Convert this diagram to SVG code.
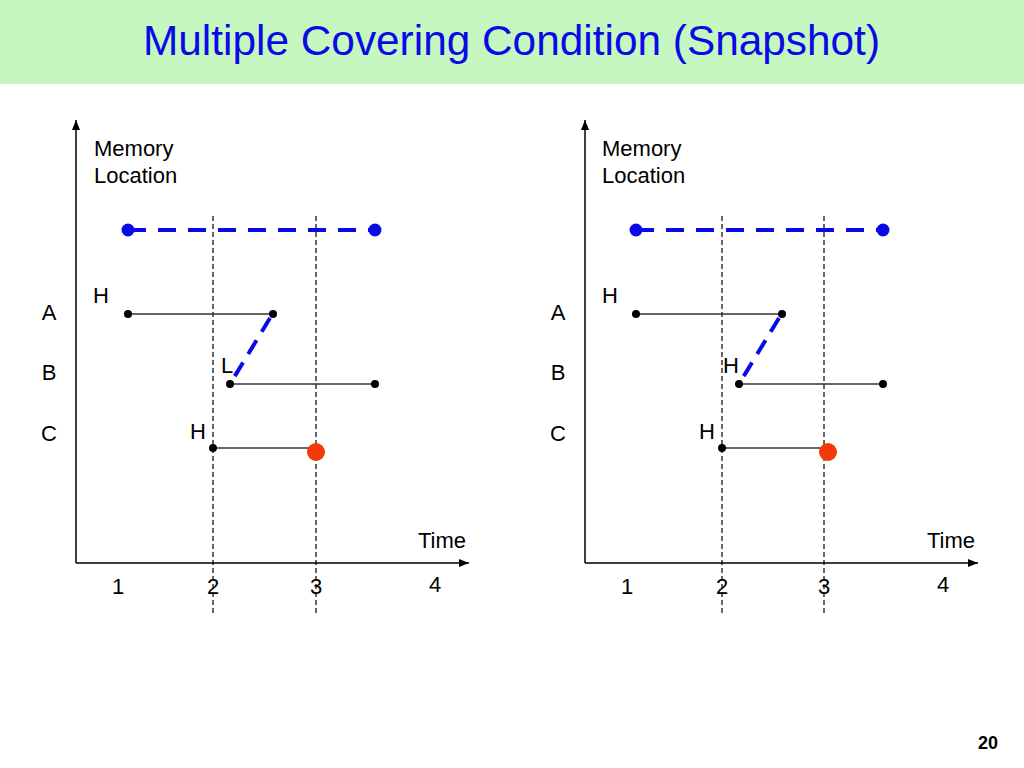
<svg xmlns="http://www.w3.org/2000/svg" width="1024" height="768" viewBox="0 0 1024 768">
<defs>
<style>
text{font-family:"Liberation Sans",Arial,sans-serif;fill:#000}
.lbl{font-size:22px}
.title{font-size:43px;fill:#0a0ae6}
.axis{stroke:#000;stroke-width:1.5;fill:none}
.vdash{stroke:#000;stroke-width:1.2;stroke-dasharray:5 3;fill:none}
.bdash{stroke:#0a0ae6;stroke-width:4;stroke-dasharray:18 12;fill:none}
.ddash{stroke:#0a0ae6;stroke-width:4;stroke-dasharray:16 10;fill:none}
.seg{stroke:#333;stroke-width:1.5;fill:none}
.dot{fill:#000}
.bdot{fill:#0a0ae6}
.rdot{fill:#f5380a}
</style>
<marker id="arr" viewBox="0 0 10 10" refX="10" refY="5" markerWidth="10" markerHeight="10" markerUnits="userSpaceOnUse" orient="auto">
<path d="M0,1 L10,5 L0,9 Z" fill="#000"/>
</marker>
</defs>
<rect x="0" y="0" width="1024" height="768" fill="#fff"/>
<g id="header">
<rect x="0" y="0" width="1024" height="84" fill="#c6f7c0"/>
<text class="title" x="143" y="55" textLength="737" lengthAdjust="spacingAndGlyphs">Multiple Covering Condition (Snapshot)</text>
</g>

<g id="left-panel">
<g id="left-axes">
<line class="axis" x1="76" y1="563" x2="76" y2="120" marker-end="url(#arr)"/>
<line class="axis" x1="76" y1="563" x2="469" y2="563" marker-end="url(#arr)"/>
<text class="lbl" x="94" y="156">Memory</text>
<text class="lbl" x="94" y="183">Location</text>
<text class="lbl" x="418" y="548">Time</text>
<text class="lbl" x="118" y="594" text-anchor="middle">1</text>
<text class="lbl" x="213" y="594" text-anchor="middle">2</text>
<text class="lbl" x="316" y="594" text-anchor="middle">3</text>
<text class="lbl" x="435" y="592" text-anchor="middle">4</text>
<text class="lbl" x="49" y="320" text-anchor="middle">A</text>
<text class="lbl" x="49" y="380" text-anchor="middle">B</text>
<text class="lbl" x="49" y="441" text-anchor="middle">C</text>
</g>
<g id="left-connectors">
<line class="vdash" x1="213" y1="216" x2="213" y2="614"/>
<line class="vdash" x1="316" y1="216" x2="316" y2="614"/>
<line class="bdash" x1="128" y1="230" x2="375" y2="230"/>
<line class="seg" x1="128" y1="314" x2="273" y2="314"/>
<line class="seg" x1="230" y1="384" x2="375" y2="384"/>
<line class="seg" x1="213" y1="448" x2="316" y2="448"/>
<line class="ddash" x1="270" y1="318" x2="230" y2="384"/>
</g>
<g id="left-nodes">
<circle class="bdot" cx="128" cy="230" r="6.5"/>
<circle class="bdot" cx="375" cy="230" r="6.5"/>
<circle class="dot" cx="128" cy="314" r="4"/>
<circle class="dot" cx="273" cy="314" r="4"/>
<circle class="dot" cx="230" cy="384" r="4"/>
<circle class="dot" cx="375" cy="384" r="4"/>
<circle class="dot" cx="213" cy="448" r="4"/>
<circle class="rdot" cx="316" cy="452" r="9"/>
<text class="lbl" x="93" y="303">H</text>
<text class="lbl" x="221" y="373">L</text>
<text class="lbl" x="190" y="439">H</text>
</g>
</g>

<g id="right-panel">
<g id="right-axes">
<line class="axis" x1="585" y1="563" x2="585" y2="120" marker-end="url(#arr)"/>
<line class="axis" x1="585" y1="563" x2="978" y2="563" marker-end="url(#arr)"/>
<text class="lbl" x="602" y="156">Memory</text>
<text class="lbl" x="602" y="183">Location</text>
<text class="lbl" x="927" y="548">Time</text>
<text class="lbl" x="627" y="594" text-anchor="middle">1</text>
<text class="lbl" x="722" y="594" text-anchor="middle">2</text>
<text class="lbl" x="824" y="594" text-anchor="middle">3</text>
<text class="lbl" x="943" y="592" text-anchor="middle">4</text>
<text class="lbl" x="558" y="320" text-anchor="middle">A</text>
<text class="lbl" x="558" y="380" text-anchor="middle">B</text>
<text class="lbl" x="558" y="441" text-anchor="middle">C</text>
</g>
<g id="right-connectors">
<line class="vdash" x1="722" y1="216" x2="722" y2="614"/>
<line class="vdash" x1="824" y1="216" x2="824" y2="614"/>
<line class="bdash" x1="636" y1="230" x2="883" y2="230"/>
<line class="seg" x1="636" y1="314" x2="782" y2="314"/>
<line class="seg" x1="739" y1="384" x2="883" y2="384"/>
<line class="seg" x1="722" y1="448" x2="828" y2="448"/>
<line class="ddash" x1="779" y1="318" x2="739" y2="384"/>
</g>
<g id="right-nodes">
<circle class="bdot" cx="636" cy="230" r="6.5"/>
<circle class="bdot" cx="883" cy="230" r="6.5"/>
<circle class="dot" cx="636" cy="314" r="4"/>
<circle class="dot" cx="782" cy="314" r="4"/>
<circle class="dot" cx="739" cy="384" r="4"/>
<circle class="dot" cx="883" cy="384" r="4"/>
<circle class="dot" cx="722" cy="448" r="4"/>
<circle class="rdot" cx="828" cy="452" r="9"/>
<text class="lbl" x="602" y="303">H</text>
<text class="lbl" x="723" y="373">H</text>
<text class="lbl" x="699" y="439">H</text>
</g>
</g>

<g id="footer">
<text x="998" y="749" text-anchor="end" style="font-size:18px;font-weight:bold">20</text>
</g>
</svg>
